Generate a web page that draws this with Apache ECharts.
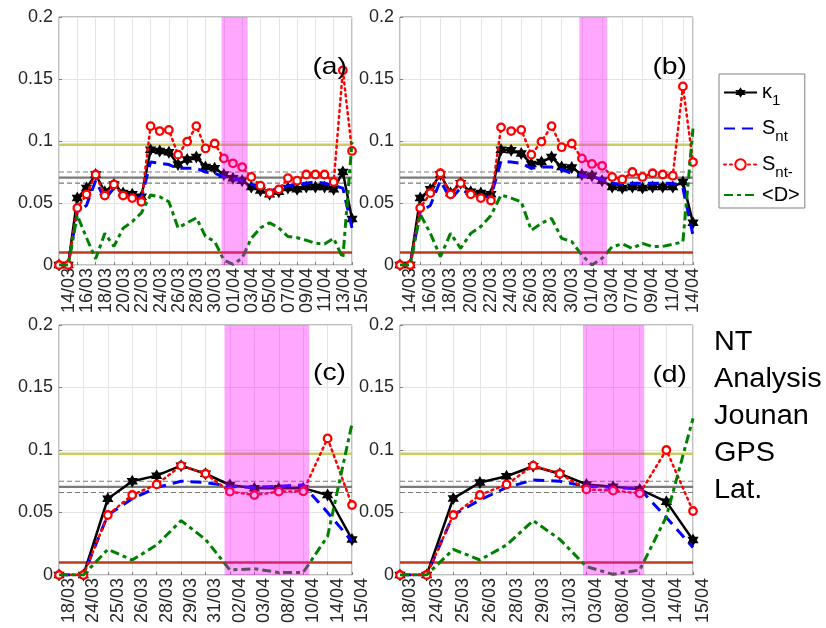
<!DOCTYPE html>
<html>
<head>
<meta charset="utf-8">
<script src="https://cdn.jsdelivr.net/npm/echarts@6/dist/echarts.min.js"></script>
<style>html,body{margin:0;padding:0;background:#fff;}#c{width:826px;height:628px;}</style>
</head>
<body>
<div id="c"></div>
<script>
// ---- tick labels ----
const ticksA = ['14/03','16/03','18/03','20/03','22/03','24/03','26/03','28/03','30/03','01/04','03/04','05/04','07/04','09/04','11/04','13/04','15/04'];
const ticksB = ['14/03','16/03','18/03','20/03','22/03','24/03','26/03','28/03','30/03','01/04','03/04','07/04','09/04','11/04','14/04'];
const ticksC = ['18/03','24/03','25/03','26/03','28/03','29/03','31/03','02/04','03/04','08/04','10/04','14/04','15/04'];
const ticksD = ['18/03','24/03','25/03','26/03','28/03','29/03','31/03','03/04','08/04','10/04','14/04','15/04'];

// ---- panel (a) ----
const kappaA = [0,0,0.054,0.062,0.073,0.059,0.065,0.058,0.057,0.055,0.093,0.092,0.091,0.081,0.085,0.087,0.079,0.078,0.073,0.070,0.068,0.063,0.060,0.057,0.059,0.062,0.061,0.063,0.063,0.063,0.061,0.075,0.037];
const sntA   = [0,0,0.043,0.048,0.068,0.053,0.062,0.056,0.055,0.054,0.083,0.082,0.081,0.078,0.078,0.078,0.075,0.074,0.071,0.070,0.068,0.065,0.062,0.060,0.061,0.064,0.065,0.066,0.067,0.066,0.064,0.062,0.030];
const snmA   = [0,0,0.046,0.057,0.073,0.056,0.065,0.056,0.054,0.051,0.112,0.108,0.109,0.089,0.0995,0.112,0.094,0.098,0.086,0.082,0.079,0.071,0.064,0.058,0.061,0.070,0.068,0.073,0.073,0.073,0.067,0.157,0.092];
const dA     = [0,0,0.040,0.022,0.005,0.0255,0.015,0.0296,0.035,0.042,0.0565,0.055,0.051,0.030,0.034,0.038,0.023,0.019,0.004,0.0005,0.0055,0.0215,0.030,0.034,0.030,0.023,0.022,0.020,0.0175,0.017,0.0215,0.0055,0.099];
// ---- panel (b) ----
const kappaB = [0,0,0.054,0.061,0.073,0.058,0.066,0.059,0.058,0.057,0.093,0.0925,0.090,0.0815,0.083,0.087,0.079,0.0786,0.073,0.072,0.068,0.063,0.062,0.063,0.062,0.063,0.063,0.063,0.067,0.034];
const sntB   = [0,0,0.043,0.048,0.068,0.053,0.062,0.056,0.055,0.055,0.084,0.083,0.082,0.078,0.079,0.079,0.077,0.074,0.072,0.071,0.069,0.066,0.065,0.066,0.066,0.066,0.066,0.066,0.062,0.024];
const snmB   = [0,0,0.046,0.058,0.074,0.057,0.066,0.057,0.054,0.052,0.111,0.108,0.109,0.089,0.0995,0.112,0.095,0.098,0.086,0.0815,0.080,0.071,0.069,0.075,0.071,0.074,0.073,0.072,0.144,0.083];
const dB     = [0,0,0.041,0.0255,0.0067,0.0255,0.0134,0.0255,0.031,0.040,0.0565,0.054,0.051,0.028,0.0336,0.0376,0.0215,0.0188,0.008,0,0.0054,0.0148,0.017,0.0134,0.0175,0.0148,0.015,0.0167,0.0188,0.110];
// ---- panel (c) ----
const kappaC = [0,0,0.061,0.075,0.0795,0.0875,0.081,0.072,0.0695,0.0695,0.0695,0.064,0.0285];
const sntC   = [0,0,0.048,0.061,0.070,0.075,0.074,0.071,0.070,0.071,0.072,0.050,0.027];
const snmC   = [0,0,0.048,0.064,0.0725,0.0875,0.081,0.0667,0.064,0.0667,0.067,0.1093,0.056];
const dC     = [0,0,0.0205,0.012,0.024,0.0435,0.0285,0.004,0.005,0.002,0.002,0.031,0.121];
// ---- panel (d) ----
const kappaD = [0,0,0.0613,0.074,0.079,0.087,0.081,0.0725,0.0707,0.0685,0.0587,0.028];
const sntD   = [0,0,0.048,0.060,0.070,0.076,0.075,0.071,0.070,0.069,0.046,0.022];
const snmD   = [0,0,0.048,0.064,0.0725,0.0875,0.081,0.0685,0.0675,0.0653,0.100,0.0512];
const dD     = [0,0,0.0205,0.012,0.024,0.0435,0.0285,0.0067,0.0005,0.004,0.0467,0.1253];

// shaded interval (in x index units) and reference levels
const bandA = [17.75, 20.6];
const bandB = [17.75, 20.5];
const bandC = [6.78, 10.25];
const bandD = [6.87, 9.17];
const refLevels = [0.097, 0.0705, 0.075, 0.066, 0.01];
const panelTags = ['(a)','(b)','(c)','(d)'];
const sideText = ['NT','Analysis','Jounan','GPS','Lat.'];

const FONT = "'Liberation Sans', Arial, Helvetica, sans-serif";
const STAR = 'path://M100 0L128.87 50L186.6 50L157.7 100L186.6 150L128.87 150L100 200L71.13 150L13.4 150L42.3 100L13.4 50L71.13 50Z';

const panels = [
  {ticks: ticksA, step: 2, n: kappaA.length, k: kappaA, s: sntA, m: snmA, d: dA, band: bandA},
  {ticks: ticksB, step: 2, n: kappaB.length, k: kappaB, s: sntB, m: snmB, d: dB, band: bandB},
  {ticks: ticksC, step: 1, n: kappaC.length, k: kappaC, s: sntC, m: snmC, d: dC, band: bandC},
  {ticks: ticksD, step: 1, n: kappaD.length, k: kappaD, s: sntD, m: snmD, d: dD, band: bandD}
];
const gridPos = [
  {left: 59, top: 17, width: 293, height: 248},
  {left: 400, top: 17, width: 293, height: 248},
  {left: 59, top: 325, width: 293, height: 250},
  {left: 400, top: 325, width: 293, height: 250}
];
const refStyles = [
  {color: '#cccc66', width: 2.5, type: 'solid'},
  {color: '#7a7a7a', width: 2.2, type: 'solid'},
  {color: '#7a7a7a', width: 1.2, type: [5, 3]},
  {color: '#7a7a7a', width: 1.2, type: [5, 3]},
  {color: '#c0391d', width: 2.5, type: 'solid'}
];

const grids = [], xAxes = [], yAxes = [], series = [];
const toXY = arr => arr.map((v, i) => [i, v]);

panels.forEach((p, g) => {
  grids.push(Object.assign({show: true, borderColor: '#808080', borderWidth: 1, backgroundColor: 'rgba(0,0,0,0)'}, gridPos[g]));
  xAxes.push({
    type: 'value', gridIndex: g, min: 0, max: p.n - 1, interval: p.step,
    axisLine: {show: false},
    axisTick: {show: true, inside: true, length: 3, lineStyle: {color: '#808080'}},
    splitLine: {show: true, lineStyle: {color: '#e4e4e4', width: 1}},
    axisLabel: {
      rotate: 90, margin: 3, fontSize: 18, fontFamily: FONT, color: '#262626',
      verticalAlign: 'top', padding: [1, 0, 0, 0],
      showMinLabel: true, showMaxLabel: true,
      formatter: v => {
        const idx = Math.round(v);
        if (Math.abs(v - idx) > 1e-6 || idx % p.step !== 0) return '';
        return p.ticks[idx / p.step] || '';
      }
    }
  });
  yAxes.push({
    type: 'value', gridIndex: g, min: 0, max: 0.2, interval: 0.05,
    axisLine: {show: false},
    axisTick: {show: true, inside: true, length: 3, lineStyle: {color: '#808080'}},
    splitLine: {show: true, lineStyle: {color: '#e4e4e4', width: 1}},
    axisLabel: {fontSize: 18, fontFamily: FONT, color: '#262626', margin: 6}
  });
  // horizontal reference levels, spanning the axis range
  refLevels.forEach((lvl, r) => {
    series.push({
      type: 'line', name: '_ref' + g + '_' + r, xAxisIndex: g, yAxisIndex: g, z: 1, silent: true,
      symbol: 'none', data: [[0, lvl], [p.n - 1, lvl]],
      lineStyle: refStyles[r], itemStyle: {color: refStyles[r].color}
    });
  });
  series.push({
    type: 'line', name: 'κ1', xAxisIndex: g, yAxisIndex: g, data: toXY(p.k), z: 2,
    symbol: STAR, symbolSize: 13, symbolKeepAspect: true, showAllSymbol: true,
    itemStyle: {color: '#000'}, lineStyle: {color: '#000', width: 2.5}
  });
  series.push({
    type: 'line', name: 'Snt', xAxisIndex: g, yAxisIndex: g, data: toXY(p.s), z: 3,
    symbol: 'none', itemStyle: {color: '#0000ff'}, lineStyle: {color: '#0000ff', width: 3, type: [11, 7]}
  });
  series.push({
    type: 'line', name: 'Snt-', xAxisIndex: g, yAxisIndex: g, data: toXY(p.m), z: 4,
    symbol: 'circle', symbolSize: 7.5, showAllSymbol: true,
    itemStyle: {color: '#ffffff', borderColor: '#ff0000', borderWidth: 2.3},
    lineStyle: {color: '#ff0000', width: 2.5, type: [2, 4], cap: 'round'}
  });
  series.push({
    type: 'line', name: '<D>', xAxisIndex: g, yAxisIndex: g, data: toXY(p.d), z: 5,
    symbol: 'none', itemStyle: {color: '#008000'}, lineStyle: {color: '#008000', width: 3, type: [9, 4, 4, 4]}
  });
  // shaded interval on top
  series.push({
    type: 'line', name: '_band' + g, xAxisIndex: g, yAxisIndex: g, data: [], z: 10, silent: true,
    markArea: {
      silent: true, z: 10, animation: false,
      itemStyle: {color: 'rgba(255,0,255,0.35)', borderWidth: 0},
      data: [[{xAxis: p.band[0], yAxis: 0}, {xAxis: p.band[1], yAxis: 0.2}]]
    }
  });
});

const richNames = {
  'κ1': '{m|κ}{s|1}',
  'Snt': '{m|S}{s|nt}',
  'Snt-': '{m|S}{s|nt-}',
  '<D>': '{m|<D>}'
};

const tagPos = [[347, 67], [687, 67], [346, 373], [687, 375]];
const graphics = tagPos.map((pos, i) => ({
  type: 'text', z: 100, x: pos[0], y: pos[1], scaleX: 1.18,
  style: {text: panelTags[i], font: '24px ' + FONT, fill: '#000', textAlign: 'right', textVerticalAlign: 'middle'}
}));
graphics.push({
  type: 'text', z: 100, x: 714, y: 324, scaleX: 1.07,
  style: {text: sideText.join('\n'), font: '27px ' + FONT, fill: '#000', textAlign: 'left', textVerticalAlign: 'top', lineHeight: 37}
});

const chart = echarts.init(document.getElementById('c'), null, {renderer: 'canvas'});
chart.setOption({
  animation: false,
  backgroundColor: '#ffffff',
  grid: grids,
  xAxis: xAxes,
  yAxis: yAxes,
  legend: {
    data: [
      {name: 'κ1'},
      {name: 'Snt', itemStyle: {opacity: 0}},
      {name: 'Snt-'},
      {name: '<D>', itemStyle: {opacity: 0}}
    ],
    orient: 'vertical', left: 719, top: 74,
    backgroundColor: '#ffffff', borderColor: '#808080', borderWidth: 1,
    padding: [3, 5, 3, 4], itemWidth: 33, itemHeight: 13, itemGap: 5,
    selectedMode: false,
    formatter: name => richNames[name] || name,
    textStyle: {
      fontFamily: FONT, fontSize: 19, color: '#000',
      rich: {
        m: {fontSize: 20, fontFamily: FONT, color: '#000', lineHeight: 30},
        s: {fontSize: 15, fontFamily: FONT, color: '#000', padding: [16, 0, 0, 0], lineHeight: 14}
      }
    }
  },
  graphic: graphics,
  series: series
});
</script>
</body>
</html>
